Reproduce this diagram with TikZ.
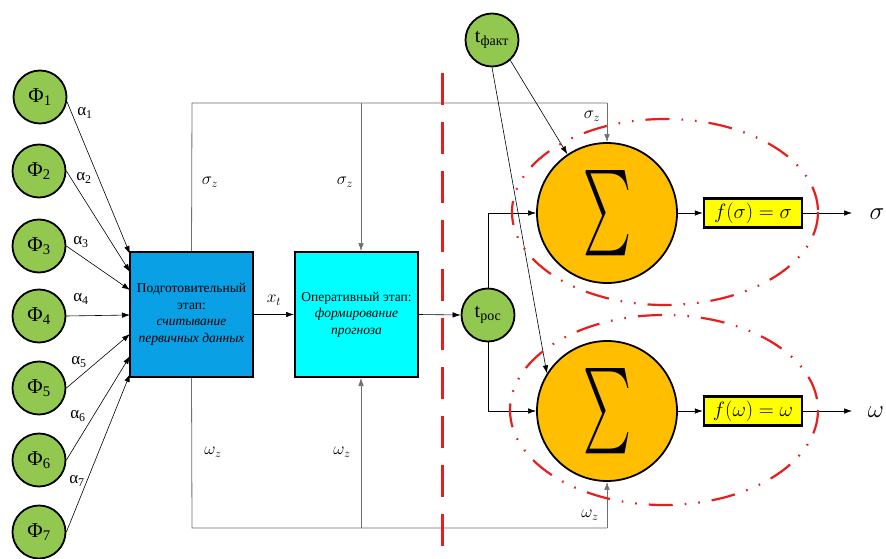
\documentclass[tikz,border=0pt]{standalone}
\usepackage{fontspec}
\setmainfont{Liberation Serif}
\usepackage{graphicx}
\usetikzlibrary{arrows.meta}
\definecolor{cgreen}{RGB}{146,200,80}
\definecolor{cblue}{RGB}{10,160,230}
\definecolor{ccyan}{RGB}{0,255,255}
\definecolor{corange}{RGB}{255,190,0}
\definecolor{cyel}{RGB}{255,255,0}
\definecolor{cred}{RGB}{230,30,30}
\definecolor{cgray}{RGB}{110,110,110}
\begin{document}
\begin{tikzpicture}[x=1pt,y=-1pt,
  phi/.style={circle,draw,line width=1.8pt,fill=cgreen,minimum size=53pt,inner sep=0pt,font=\fontsize{21}{21}\selectfont},
  sumc/.style={circle,draw,line width=1.8pt,fill=corange,minimum size=140pt,inner sep=0pt},
  fbx/.style={draw,line width=2.5pt,fill=cyel,minimum width=98pt,minimum height=29pt,inner sep=0pt,font=\fontsize{22}{22}\selectfont},
  stage/.style={draw,line width=2pt,minimum width=123pt,minimum height=125pt,inner sep=1pt,align=center,font=\fontsize{13.5}{16.5}\selectfont},
  arr/.style={-{Latex[length=8pt,width=5.5pt]},line width=0.6pt},
  lp/.style={draw=cgray,line width=0.8pt},
  lbl/.style={font=\fontsize{17}{17}\selectfont,inner sep=0pt},
  ml/.style={font=\fontsize{17}{17}\selectfont,inner sep=0pt},
  ell/.style={draw=cred,line width=2.2pt,dash pattern=on 24pt off 12pt on 1.6pt off 12pt on 1.6pt off 12pt}]
\useasboundingbox (0,0) rectangle (886,559);
\fill[white] (0,0) rectangle (886,559);

% input circles
\node[phi] (p1) at (40,97) {Φ\textsubscript{1}};
\node[phi] (p2) at (39,171) {Φ\textsubscript{2}};
\node[phi] (p3) at (39,246) {Φ\textsubscript{3}};
\node[phi] (p4) at (39,316) {Φ\textsubscript{4}};
\node[phi] (p5) at (39,388) {Φ\textsubscript{5}};
\node[phi] (p6) at (39,460) {Φ\textsubscript{6}};
\node[phi] (p7) at (39,532) {Φ\textsubscript{7}};

% stages
\node[stage,fill=cblue] (b1) at (191.5,314.5) {Подготовительный\\этап:\\\textit{считывание}\\\textit{первичных данных}};
\node[stage,fill=ccyan] (b2) at (356.5,314.5) {Оперативный этап:\\\textit{формирование}\\\textit{прогноза}};

% input arrows
\coordinate (e1) at (130,254);
\coordinate (e2) at (130,272);
\coordinate (e3) at (130,290);
\coordinate (e4) at (130,315);
\coordinate (e5) at (130,334);
\coordinate (e6) at (130,356);
\coordinate (e7) at (130,374);
\draw[arr] (p1.-10) -- (e1);
\draw[arr] (p2.east) -- (e2);
\draw[arr] (p3.east) -- (e3);
\draw[arr] (p4.east) -- (e4);
\draw[arr] (p5.east) -- (e5);
\draw[arr] (p6.east) -- (e6);
\draw[arr] (p7.east) -- (e7);
\node[lbl] (a1) at (85,113) {α\textsubscript{1}};
\node[lbl] (a2) at (84,178) {α\textsubscript{2}};
\node[lbl] (a3) at (81,242) {α\textsubscript{3}};
\node[lbl] (a4) at (81,299) {α\textsubscript{4}};
\node[lbl] (a5) at (79,362) {α\textsubscript{5}};
\node[lbl] (a6) at (78,416) {α\textsubscript{6}};
\node[lbl] (a7) at (77,481) {α\textsubscript{7}};

\draw[arr] (b1.east) -- (b2.west) node[midway,above=9pt,font=\fontsize{18}{18}\selectfont,inner sep=0pt] (xt) {$x_t$};

% right part nodes
\node[phi,font=\fontsize{20}{20}\selectfont] (tf) at (492,40) {t\textsubscript{факт}};
\node[phi,font=\fontsize{20}{20}\selectfont] (tr) at (488,315) {t\textsubscript{рос}};
\node[sumc] (s1) at (607,213) {\resizebox{48pt}{64pt}{$\sum$}};
\node[sumc] (s2) at (607,411) {\resizebox{48pt}{64pt}{$\sum$}};
\node[fbx] (f1) at (753,213) {$f(\sigma)=\sigma$};
\node[fbx] (f2) at (753,411) {$f(\omega)=\omega$};

% feedback loops
\coordinate (ctl) at (192,103);
\coordinate (ctm) at (361,103);
\coordinate (ctr) at (607,103);
\coordinate (cbl) at (192,528);
\coordinate (cbm) at (361,528);
\coordinate (cbr) at (607,528);
\draw[lp] (b1.north) -- (ctl) -- (ctr);
\draw[lp,arr,draw=cgray] (ctr) -- (s1.north);
\draw[lp,arr,draw=cgray] (ctm) -- (ctm |- b2.north);
\draw[lp] (b1.south) -- (cbl) -- (cbr);
\draw[lp,arr,draw=cgray] (cbr) -- (s2.south);
\draw[lp,arr,draw=cgray] (cbm) -- (cbm |- b2.south);
\node[ml] (sz1) at (210,182) {$\sigma_z$};
\node[ml] (sz2) at (345,182) {$\sigma_z$};
\node[ml] (sz3) at (592,116) {$\sigma_z$};
\node[ml] (wz1) at (213,452) {$\omega_z$};
\node[ml] (wz2) at (342,452) {$\omega_z$};
\node[ml] (wz3) at (590,515) {$\omega_z$};

% t connections
\draw[arr] (b2.east) -- (tr.west);
\coordinate (tu) at (488,213);
\coordinate (td) at (488,411);
\draw[arr] (tr.north) -- (tu) -- (s1.west);
\draw[arr] (tr.south) -- (td) -- (s2.west);
\draw[arr] (tf.-48) -- (s1.124);
\draw[arr] (tf.south) -- (s2.148);

% outputs
\draw[arr] (s1.east) -- (f1.west);
\draw[arr] (s2.east) -- (f2.west);
\coordinate (o1) at (852,213);
\coordinate (o2) at (852,411);
\draw[arr] (f1.east) -- (o1);
\draw[arr] (f2.east) -- (o2);
\node[font=\fontsize{24}{24}\selectfont,inner sep=0pt] (os) at (877,214) {$\sigma$};
\node[font=\fontsize{24}{24}\selectfont,inner sep=0pt] (ow) at (876,412) {$\omega$};

% red dashed separators
\coordinate (r1) at (442,73);
\coordinate (r2) at (442,559);
\draw[cred,line width=3pt,dash pattern=on 32pt off 17pt] (r1) -- (r2);
\draw[ell] (665,212) ellipse [x radius=153, y radius=93];
\draw[ell] (664,410) ellipse [x radius=154, y radius=95];
\end{tikzpicture}
\end{document}
